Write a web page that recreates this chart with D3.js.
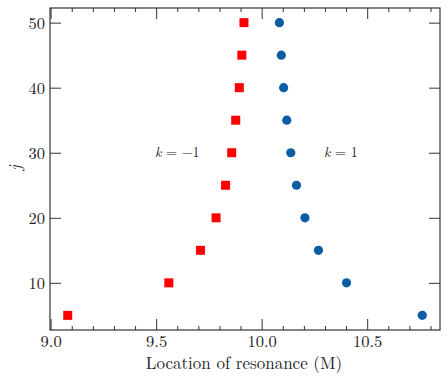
<!DOCTYPE html>
<html><head><meta charset="utf-8">
<script src="https://cdn.jsdelivr.net/npm/d3@7"></script>
<style>body{margin:0;background:#fff}svg{display:block}</style>
</head><body><svg id="c" width="448" height="381"></svg>
<script>
const jValues = [5, 10, 15, 20, 25, 30, 35, 40, 45, 50];
const kMinusOne = [9.081, 9.560, 9.710, 9.784, 9.829, 9.858, 9.877, 9.894, 9.906, 9.916];
const kPlusOne = [10.761, 10.402, 10.269, 10.205, 10.165, 10.138, 10.119, 10.104, 10.093, 10.084];
const xTicks = [9.0, 9.5, 10.0, 10.5];
const yTicks = [10, 20, 30, 40, 50];
const annotations = [{text: "−1", x: 9.60, y: 30}, {text: "1", x: 10.375, y: 30}];

const FONT = '"Latin Modern Roman", "CMU Serif", "Liberation Serif", serif';
const svg = d3.select("#c");
const L = 50, R = 440, T = 8, B = 330;
const x = d3.scaleLinear().domain([8.997, 10.845]).range([L, R]);
const y = d3.scaleLinear().domain([2.75, 52.25]).range([B, T]);
const axColor = "#333";

const minorX = d3.range(9.0, 10.85, 0.1).filter(v => xTicks.every(t => Math.abs(t - v) > 1e-6));

const gBottom = svg.append("g").attr("transform", `translate(0,${B})`)
  .call(d3.axisBottom(x).tickValues(xTicks).tickFormat(d3.format(".1f")).tickSize(-11).tickPadding(5).tickSizeOuter(0));
const gBottomMinor = svg.append("g").attr("transform", `translate(0,${B})`)
  .call(d3.axisBottom(x).tickValues(minorX).tickFormat("").tickSize(-4).tickSizeOuter(0));
const gTop = svg.append("g").attr("transform", `translate(0,${T})`)
  .call(d3.axisTop(x).tickValues(xTicks).tickFormat("").tickSize(-11).tickSizeOuter(0));
const gTopMinor = svg.append("g").attr("transform", `translate(0,${T})`)
  .call(d3.axisTop(x).tickValues(minorX).tickFormat("").tickSize(-4).tickSizeOuter(0));
const gLeft = svg.append("g").attr("transform", `translate(${L},0)`)
  .call(d3.axisLeft(y).tickValues(yTicks).tickSize(-11).tickPadding(5).tickSizeOuter(0));
const gRight = svg.append("g").attr("transform", `translate(${R},0)`)
  .call(d3.axisRight(y).tickValues(yTicks).tickFormat("").tickSize(-11).tickSizeOuter(0));

[gBottom, gBottomMinor, gTop, gTopMinor, gLeft, gRight].forEach(g => {
  g.attr("font-family", FONT);
  g.select(".domain").remove();
  g.selectAll(".tick line").attr("stroke", axColor).attr("stroke-width", 1);
  g.selectAll(".tick text").attr("font-size", 16.5).attr("fill", "#222");
});
gLeft.selectAll(".tick text").attr("dy", "0.35em");

svg.append("rect").attr("x", L).attr("y", T).attr("width", R - L).attr("height", B - T)
  .attr("fill", "none").attr("stroke", axColor).attr("stroke-width", 1.2);

svg.append("g").selectAll("rect").data(jValues).join("rect")
  .attr("x", (d, i) => x(kMinusOne[i]) - 4.5).attr("y", d => y(d) - 4.5)
  .attr("width", 9).attr("height", 9).attr("fill", "#FF0000");
svg.append("g").selectAll("circle").data(jValues).join("circle")
  .attr("cx", (d, i) => x(kPlusOne[i])).attr("cy", d => y(d)).attr("r", 4.6).attr("fill", "#0C5DA5");

annotations.forEach(a => {
  const t = svg.append("text").attr("x", x(a.x)).attr("y", y(a.y) + 4.5)
    .attr("text-anchor", "middle").attr("font-size", 14).attr("font-family", FONT).attr("fill", "#222");
  t.append("tspan").attr("font-style", "italic").text("k");
  t.append("tspan").text(" = " + a.text);
});

svg.append("text").attr("x", (L + R) / 2 - 1).attr("y", 369).attr("text-anchor", "middle")
  .attr("font-family", FONT).attr("fill", "#222")
  .attr("font-size", 17).text("Location of resonance (M)");
svg.append("text").attr("transform", `translate(21,${(T + B) / 2 - 1}) rotate(-90)`)
  .attr("font-family", FONT).attr("fill", "#222")
  .attr("text-anchor", "middle").attr("font-size", 17).attr("font-style", "italic").text("j");
</script></body></html>
